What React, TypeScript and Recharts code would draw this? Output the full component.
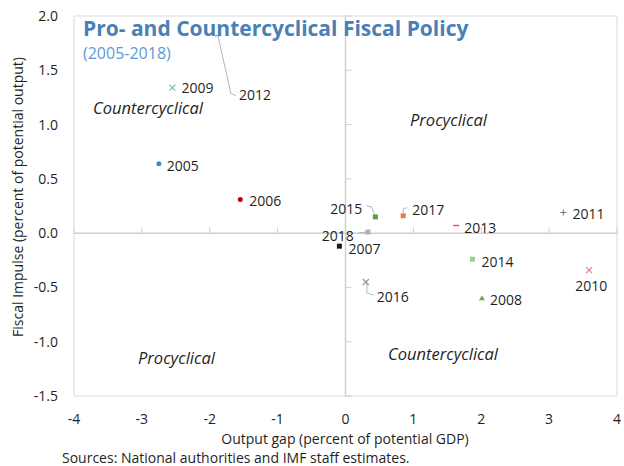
import { ScatterChart, Scatter, XAxis, YAxis, ReferenceLine, ReferenceArea } from 'recharts'

const years = [2005, 2006, 2007, 2008, 2009, 2010, 2011, 2012, 2013, 2014, 2015, 2016, 2017, 2018]
const outputGap = [-2.75, -1.55, -0.09, 2.01, -2.55, 3.59, 3.21, -1.88, 1.63, 1.87, 0.44, 0.3, 0.85, 0.33]
const fiscalImpulse = [0.64, 0.31, -0.12, -0.6, 1.34, -0.34, 0.19, 1.82, 0.07, -0.24, 0.15, -0.45, 0.16, 0.01]
const xTicks = [-4, -3, -2, -1, 0, 1, 2, 3, 4]
const yTicks = [-1.5, -1.0, -0.5, 0.0, 0.5, 1.0, 1.5, 2.0]

const FONT = '"Open Sans", "Noto Sans", sans-serif'
const AXIS_GREY = '#d0d0d0'
const LEADER = '#a9b8cb'

const data = years.map((year, i) => ({ year, x: outputGap[i], y: fiscalImpulse[i] }))

type Marker = { kind: 'circle' | 'square' | 'triangle' | 'x' | 'plus' | 'dash'; color: string }
const markers: Record<number, Marker> = {
  2005: { kind: 'circle', color: '#3c8dc5' },
  2006: { kind: 'circle', color: '#c00000' },
  2007: { kind: 'square', color: '#1a1a1a' },
  2008: { kind: 'triangle', color: '#70ad47' },
  2009: { kind: 'x', color: '#6cc891' },
  2010: { kind: 'x', color: '#f07a7a' },
  2011: { kind: 'plus', color: '#777777' },
  2012: { kind: 'dash', color: '#8fa6c4' },
  2013: { kind: 'dash', color: '#e05a5a' },
  2014: { kind: 'square', color: '#a3cc86' },
  2015: { kind: 'square', color: '#5a9e3a' },
  2016: { kind: 'x', color: '#999999' },
  2017: { kind: 'square', color: '#ed7d31' },
  2018: { kind: 'square', color: '#b0b0b0' },
}

// label offsets in px relative to the point; optional leader polyline
type Lbl = { dx: number; dy: number; anchor?: 'start' | 'middle' | 'end'; leader?: number[][] }
const labels: Record<number, Lbl> = {
  2005: { dx: 8, dy: 2 },
  2006: { dx: 9, dy: 1 },
  2007: { dx: 9, dy: 2 },
  2008: { dx: 8, dy: 1 },
  2009: { dx: 9, dy: 0 },
  2010: { dx: 2, dy: 15, anchor: 'middle' },
  2011: { dx: 9, dy: 1 },
  2012: { dx: 21, dy: 59, leader: [[0, 0], [13, 58], [18, 60]] },
  2013: { dx: 8, dy: 2 },
  2014: { dx: 9, dy: 2 },
  2015: { dx: -13, dy: -8, anchor: 'end', leader: [[-9, -11], [-4, -10], [-1, -3]] },
  2016: { dx: 11, dy: 14, leader: [[1, 1], [1, 11], [8, 13]] },
  2017: { dx: 9, dy: -6, leader: [[0, -3], [0, -7], [4, -8]] },
  2018: { dx: -14, dy: 3, anchor: 'end', leader: [[-10, 1], [-2, 0]] },
}

function YearPoint(props: any) {
  const { cx, cy, payload } = props
  const m = markers[payload.year]
  const l = labels[payload.year]
  let mark = null
  if (m.kind === 'circle') mark = <circle cx={cx} cy={cy} r={2.5} fill={m.color} />
  else if (m.kind === 'square') mark = <rect x={cx - 2.5} y={cy - 2.5} width={5} height={5} fill={m.color} />
  else if (m.kind === 'triangle')
    mark = <polygon points={`${cx},${cy - 3} ${cx + 3},${cy + 2} ${cx - 3},${cy + 2}`} fill={m.color} />
  else if (m.kind === 'x')
    mark = <path d={`M${cx - 3},${cy - 3}L${cx + 3},${cy + 3}M${cx + 3},${cy - 3}L${cx - 3},${cy + 3}`} stroke={m.color} strokeWidth={1.2} />
  else if (m.kind === 'plus')
    mark = <path d={`M${cx - 3},${cy}L${cx + 3},${cy}M${cx},${cy - 3}L${cx},${cy + 3}`} stroke={m.color} strokeWidth={1} />
  else mark = <line x1={cx - 3} y1={cy} x2={cx + 3} y2={cy} stroke={m.color} strokeWidth={1.5} />
  return (
    <g>
      {l.leader && (
        <polyline
          points={l.leader.map(([a, b]) => `${cx + a},${cy + b}`).join(' ')}
          fill="none"
          stroke={LEADER}
          strokeWidth={1}
        />
      )}
      {mark}
      <text
        x={cx + l.dx}
        y={cy + l.dy}
        textAnchor={l.anchor ?? 'start'}
        dominantBaseline="central"
        fontSize={14}
        fontFamily={FONT}
        fill="#1f1f1f"
      >
        {payload.year}
      </text>
    </g>
  )
}

const abs = (left: number, top: number, extra: React.CSSProperties = {}): React.CSSProperties => ({
  position: 'absolute',
  left,
  top,
  lineHeight: 1,
  whiteSpace: 'nowrap',
  transform: 'translateY(-50%)',
  fontFamily: FONT,
  ...extra,
})

const quad: React.CSSProperties = { fontSize: 16.5, fontStyle: 'italic', color: '#1f1f1f' }

export default function App() {
  return (
    <div style={{ position: 'absolute', left: 0, top: 0, width: 624, height: 466, background: '#fff' }}>
      <ScatterChart width={624} height={466} margin={{ top: 16, right: 7, bottom: 0, left: 0 }}>
        <ReferenceArea x1={-4} x2={4} y1={-1.5} y2={2} fill="none" stroke="#d9d9d9" strokeWidth={1} />
        <ReferenceLine x={0} stroke={AXIS_GREY} strokeWidth={1.5} />
        <ReferenceLine y={0} stroke={AXIS_GREY} strokeWidth={1.5} />
        {yTicks.map((t) => (
          <ReferenceLine key={'yt' + t} segment={[{ x: 0, y: t }, { x: 0.09, y: t }]} stroke={AXIS_GREY} />
        ))}
        {xTicks.map((t) => (
          <ReferenceLine key={'xt' + t} segment={[{ x: t, y: 0 }, { x: t, y: 0.055 }]} stroke={AXIS_GREY} />
        ))}
        <XAxis
          type="number"
          dataKey="x"
          domain={[-4, 4]}
          ticks={xTicks}
          height={70}
          axisLine={false}
          tickLine={false}
          tickMargin={12}
          tick={{ fontSize: 14, fill: '#1f1f1f', fontFamily: FONT }}
        />
        <YAxis
          type="number"
          dataKey="y"
          domain={[-1.5, 2]}
          ticks={yTicks}
          width={74}
          axisLine={false}
          tickLine={false}
          tickMargin={10}
          tickFormatter={(v: number) => v.toFixed(1)}
          tick={{ fontSize: 14, fill: '#1f1f1f', fontFamily: FONT }}
        />
        <Scatter data={data} shape={YearPoint} isAnimationActive={false} />
      </ScatterChart>

      <div style={abs(83, 28, { fontSize: 21, fontWeight: 700, color: '#4a80b5' })}>
        Pro- and Countercyclical Fiscal Policy
      </div>
      <div style={abs(83, 53, { fontSize: 16, color: '#5b9bd5' })}>(2005-2018)</div>

      <div style={abs(93, 108, quad)}>Countercyclical</div>
      <div style={abs(410, 120, quad)}>Procyclical</div>
      <div style={abs(138, 358, quad)}>Procyclical</div>
      <div style={abs(388, 354, quad)}>Countercyclical</div>

      <div style={abs(345, 439, { fontSize: 14, color: '#1f1f1f', transform: 'translate(-50%, -50%)' })}>
        Output gap (percent of potential GDP)
      </div>
      <div
        style={abs(18, 197, {
          fontSize: 14,
          color: '#1f1f1f',
          transform: 'translate(-50%, -50%) rotate(-90deg)',
        })}
      >
        Fiscal Impulse (percent of potential output)
      </div>
      <div style={abs(62, 458, { fontSize: 14, color: '#1f1f1f' })}>
        Sources: National authorities and IMF staff estimates.
      </div>
    </div>
  )
}
